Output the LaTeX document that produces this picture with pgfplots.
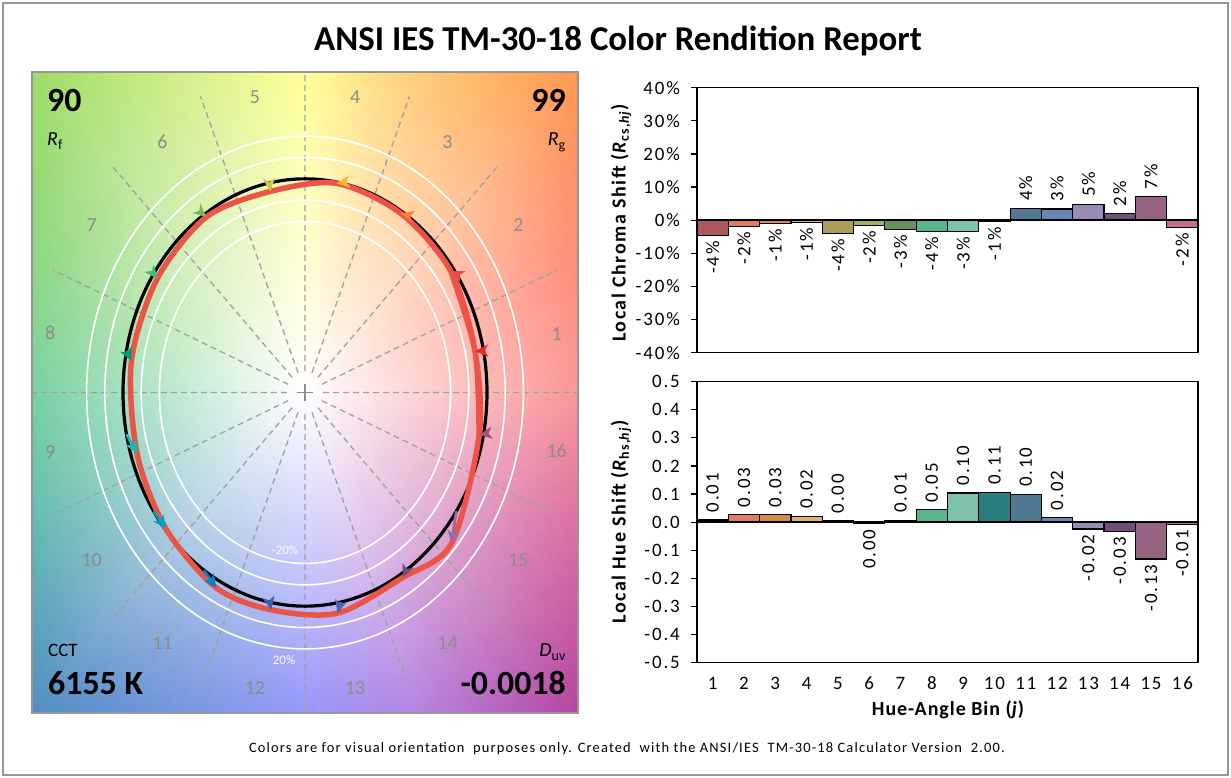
\documentclass[border=0pt]{standalone}
\usepackage{fontspec}
\setmainfont{Carlito}
\usepackage{pgfplots}
\pgfplotsset{compat=1.18}
\usetikzlibrary{arrows.meta}
% arrow (hue bin) colours
\definecolor{a1}{RGB}{230,40,40}
\definecolor{a2}{RGB}{231,75,75}
\definecolor{a3}{RGB}{251,129,46}
\definecolor{a4}{RGB}{255,181,41}
\definecolor{a5}{RGB}{203,202,70}
\definecolor{a6}{RGB}{126,185,76}
\definecolor{a7}{RGB}{65,192,109}
\definecolor{a8}{RGB}{0,156,124}
\definecolor{a9}{RGB}{22,188,176}
\definecolor{a10}{RGB}{0,164,191}
\definecolor{a11}{RGB}{0,133,195}
\definecolor{a12}{RGB}{59,98,170}
\definecolor{a13}{RGB}{69,104,174}
\definecolor{a14}{RGB}{106,78,133}
\definecolor{a15}{RGB}{157,105,161}
\definecolor{a16}{RGB}{167,79,129}
% bar colours
\definecolor{c1}{RGB}{172,88,92}
\definecolor{c2}{RGB}{220,125,100}
\definecolor{c3}{RGB}{215,140,70}
\definecolor{c4}{RGB}{225,180,100}
\definecolor{c5}{RGB}{175,155,90}
\definecolor{c6}{RGB}{160,175,105}
\definecolor{c7}{RGB}{105,145,95}
\definecolor{c8}{RGB}{90,180,140}
\definecolor{c9}{RGB}{125,195,170}
\definecolor{c10}{RGB}{40,125,125}
\definecolor{c11}{RGB}{80,120,145}
\definecolor{c12}{RGB}{105,135,180}
\definecolor{c13}{RGB}{150,140,180}
\definecolor{c14}{RGB}{110,80,120}
\definecolor{c15}{RGB}{150,100,130}
\definecolor{c16}{RGB}{195,110,145}
\definecolor{redc}{RGB}{236,84,72}
\definecolor{dashc}{RGB}{160,160,160}
\definecolor{numc}{RGB}{140,140,140}
\definecolor{framec}{RGB}{150,150,150}
\newcommand{\lblfont}{\fontsize{19}{21}\selectfont\addfontfeatures{LetterSpace=10}}
\newcommand{\pbar}[3]{\addplot[fill=#1, draw=black, line width=1.2bp, nodes near coords={#3}, every node near coord/.append style={rotate=90, anchor=west, font=\lblfont, inner xsep=7bp, inner ysep=0bp, text=black}] coordinates {(#2)};}
\newcommand{\nbar}[3]{\addplot[fill=#1, draw=black, line width=1.2bp, nodes near coords={#3}, every node near coord/.append style={rotate=90, anchor=east, font=\lblfont, inner xsep=5bp, inner ysep=0bp, text=black}] coordinates {(#2)};}
\newcommand{\arr}[3]{\addplot[color=#1, line width=2.8bp, -{Stealth[length=13bp,width=12bp,inset=3.5bp]}] coordinates {#2 #3};}
\begin{document}
\begin{tikzpicture}
\useasboundingbox (0,0) rectangle (1231bp,778bp);
\draw[framec, line width=1.5bp] (3bp,3bp) rectangle (1228bp,775bp);
\node[anchor=base, inner sep=0pt, font=\fontsize{35}{38}\selectfont\bfseries] at (618bp,727bp) {ANSI IES TM-30-18 Color Rendition Report};
\node[anchor=base, inner sep=0pt, font=\fontsize{14.5}{16}\selectfont\addfontfeatures{LetterSpace=8}] at (627bp,26bp) {Colors are for visual orientation\ \ purposes only. Created\ \ with the ANSI/IES\ \ TM-30-18 Calculator Version\ \ 2.00.};

% ---------------- colour vector graphic ----------------
\begin{axis}[at={(32bp,65bp)}, anchor=south west, scale only axis,
  width=546bp, height=641bp, xmin=-1.5, xmax=1.5, ymin=-1.5, ymax=1.5,
  axis on top, xtick=\empty, ytick=\empty,
  axis line style={draw=framec, line width=1.5bp}]
\addplot[patch, shader=interp, mesh/color input=explicit] table[meta=c] {
x y c
0 0 rgb=1,1,1
1.5 0 rgb=0.98,0.59,0.59
1.5 0.6213 rgb=1,0.55,0.47
0 0 rgb=1,1,1
1.5 0.6213 rgb=1,0.55,0.47
1.5 1.5 rgb=1,0.59,0.31
0 0 rgb=1,1,1
1.5 1.5 rgb=1,0.59,0.31
0.6213 1.5 rgb=1,0.80,0.47
0 0 rgb=1,1,1
0.6213 1.5 rgb=1,0.80,0.47
0 1.5 rgb=1,1,0.59
0 0 rgb=1,1,1
0 1.5 rgb=1,1,0.59
-0.6213 1.5 rgb=0.84,0.94,0.55
0 0 rgb=1,1,1
-0.6213 1.5 rgb=0.84,0.94,0.55
-1.5 1.5 rgb=0.61,0.86,0.39
0 0 rgb=1,1,1
-1.5 1.5 rgb=0.61,0.86,0.39
-1.5 0.6213 rgb=0.55,0.84,0.51
0 0 rgb=1,1,1
-1.5 0.6213 rgb=0.55,0.84,0.51
-1.5 0 rgb=0.47,0.82,0.63
0 0 rgb=1,1,1
-1.5 0 rgb=0.47,0.82,0.63
-1.5 -0.6213 rgb=0.39,0.73,0.69
0 0 rgb=1,1,1
-1.5 -0.6213 rgb=0.39,0.73,0.69
-1.5 -1.5 rgb=0.31,0.55,0.76
0 0 rgb=1,1,1
-1.5 -1.5 rgb=0.31,0.55,0.76
-0.6213 -1.5 rgb=0.47,0.59,0.88
0 0 rgb=1,1,1
-0.6213 -1.5 rgb=0.47,0.59,0.88
0 -1.5 rgb=0.59,0.59,0.98
0 0 rgb=1,1,1
0 -1.5 rgb=0.59,0.59,0.98
0.6213 -1.5 rgb=0.71,0.51,0.88
0 0 rgb=1,1,1
0.6213 -1.5 rgb=0.71,0.51,0.88
1.5 -1.5 rgb=0.71,0.27,0.63
0 0 rgb=1,1,1
1.5 -1.5 rgb=0.71,0.27,0.63
1.5 -0.6213 rgb=0.86,0.43,0.63
0 0 rgb=1,1,1
1.5 -0.6213 rgb=0.86,0.43,0.63
1.5 0 rgb=0.98,0.59,0.59
};
% dashed hue-bin boundaries
\addplot[dashc, line width=1.3bp, dash pattern=on 6bp off 4bp, unbounded coords=jump] coordinates {
(0.1,0) (1.5,0) (nan,nan)
(0.0924,0.0383) (1.3858,0.5740) (nan,nan)
(0.0707,0.0707) (1.0607,1.0607) (nan,nan)
(0.0383,0.0924) (0.5740,1.3858) (nan,nan)
(0,0.1) (0,1.5) (nan,nan)
(-0.0383,0.0924) (-0.5740,1.3858) (nan,nan)
(-0.0707,0.0707) (-1.0607,1.0607) (nan,nan)
(-0.0924,0.0383) (-1.3858,0.5740) (nan,nan)
(-0.1,0) (-1.5,0) (nan,nan)
(-0.0924,-0.0383) (-1.3858,-0.5740) (nan,nan)
(-0.0707,-0.0707) (-1.0607,-1.0607) (nan,nan)
(-0.0383,-0.0924) (-0.5740,-1.3858) (nan,nan)
(0,-0.1) (0,-1.5) (nan,nan)
(0.0383,-0.0924) (0.5740,-1.3858) (nan,nan)
(0.0707,-0.0707) (1.0607,-1.0607) (nan,nan)
(0.0924,-0.0383) (1.3858,-0.5740)
};
\draw[numc, line width=1.2bp] (axis cs:-0.045,0) -- (axis cs:0.045,0);
\draw[numc, line width=1.2bp] (axis cs:0,-0.04) -- (axis cs:0,0.04);
% rings
\draw[white, line width=1.6bp] (axis cs:0,0) ellipse [x radius=0.8, y radius=0.8];
\draw[white, line width=1.6bp] (axis cs:0,0) ellipse [x radius=0.9, y radius=0.9];
\draw[white, line width=1.6bp] (axis cs:0,0) ellipse [x radius=1.1, y radius=1.1];
\draw[white, line width=1.6bp] (axis cs:0,0) ellipse [x radius=1.2, y radius=1.2];
\draw[black, line width=3.2bp] (axis cs:0,0) ellipse [x radius=1, y radius=1];
% test-source gamut through the 16 test vertices (closed)
\addplot[redc, smooth, line width=5.5bp, line join=round] coordinates {
(0.9567,-0.1983)
(0.9342,0.1936) (0.8015,0.5674) (0.5276,0.8377) (0.1744,0.9786)
(-0.1920,0.9406) (-0.5418,0.8214) (-0.8111,0.5337) (-0.9537,0.1474)
(-0.9224,-0.2867) (-0.7644,-0.6372) (-0.4876,-0.9140) (-0.1855,-1.0172)
(0.1797,-1.0325) (0.5379,-0.8655) (0.8051,-0.7062) (0.9567,-0.1983)
(0.9342,0.1936) (0.8015,0.5674)
};
% shift arrows: reference -> test
\arr{a1}{(0.9808,0.1951)}{(0.9342,0.1936)}
\arr{a2}{(0.8315,0.5556)}{(0.8015,0.5674)}
\arr{a3}{(0.5556,0.8315)}{(0.5276,0.8377)}
\arr{a4}{(0.1951,0.9808)}{(0.1744,0.9786)}
\arr{a5}{(-0.1951,0.9808)}{(-0.1920,0.9406)}
\arr{a6}{(-0.5556,0.8315)}{(-0.5418,0.8214)}
\arr{a7}{(-0.8315,0.5556)}{(-0.8111,0.5337)}
\arr{a8}{(-0.9808,0.1951)}{(-0.9537,0.1474)}
\arr{a9}{(-0.9808,-0.1951)}{(-0.9224,-0.2867)}
\arr{a10}{(-0.8315,-0.5556)}{(-0.7644,-0.6372)}
\arr{a11}{(-0.5556,-0.8315)}{(-0.4876,-0.9140)}
\arr{a12}{(-0.1951,-0.9808)}{(-0.1855,-1.0172)}
\arr{a13}{(0.1951,-0.9808)}{(0.1797,-1.0325)}
\arr{a14}{(0.5556,-0.8315)}{(0.5379,-0.8655)}
\arr{a15}{(0.8315,-0.5556)}{(0.8051,-0.7062)}
\arr{a16}{(0.9808,-0.1951)}{(0.9567,-0.1983)}
% bin numbers
\begin{scope}[every node/.style={text=numc, font=\fontsize{20}{22}\selectfont}]
\node at (axis cs:1.383,0.275) {1};
\node at (axis cs:1.172,0.783) {2};
\node at (axis cs:0.783,1.172) {3};
\node at (axis cs:0.275,1.383) {4};
\node at (axis cs:-0.275,1.383) {5};
\node at (axis cs:-0.783,1.172) {6};
\node at (axis cs:-1.172,0.783) {7};
\node at (axis cs:-1.40,0.28) {8};
\node at (axis cs:-1.40,-0.28) {9};
\node at (axis cs:-1.172,-0.783) {10};
\node at (axis cs:-0.783,-1.172) {11};
\node at (axis cs:-0.275,-1.383) {12};
\node at (axis cs:0.275,-1.383) {13};
\node at (axis cs:0.783,-1.172) {14};
\node at (axis cs:1.172,-0.783) {15};
\node at (axis cs:1.383,-0.275) {16};
\end{scope}
\node[white, font=\fontsize{13}{14}\selectfont] at (axis cs:-0.11,-0.74) {-20\%};
\node[white, font=\fontsize{13}{14}\selectfont] at (axis cs:-0.115,-1.254) {20\%};
\end{axis}
% corner annotations
\node[anchor=base west, inner sep=0pt, font=\fontsize{34}{36}\selectfont\bfseries] at (47bp,666bp) {90};
\node[anchor=base west, inner sep=0pt, font=\fontsize{20}{22}\selectfont] at (47bp,632bp) {\textit{R}\textsubscript{f}};
\node[anchor=base east, inner sep=0pt, font=\fontsize{34}{36}\selectfont\bfseries] at (566bp,666bp) {99};
\node[anchor=base east, inner sep=0pt, font=\fontsize{20}{22}\selectfont] at (566bp,632bp) {\textit{R}\textsubscript{g}};
\node[anchor=base west, inner sep=0pt, font=\fontsize{19}{21}\selectfont] at (48bp,121bp) {CCT};
\node[anchor=base west, inner sep=0pt, font=\fontsize{34}{36}\selectfont\bfseries] at (48bp,83bp) {6155 K};
\node[anchor=base east, inner sep=0pt, font=\fontsize{20}{22}\selectfont] at (566bp,121bp) {\textit{D}\textsubscript{uv}};
\node[anchor=base east, inner sep=0pt, font=\fontsize{34}{36}\selectfont\bfseries] at (566bp,83bp) {-0.0018};

% ---------------- local chroma shift ----------------
\begin{axis}[at={(697bp,425.3bp)}, anchor=south west, scale only axis,
  width=501bp, height=265bp, xmin=0.5, xmax=16.5, ymin=-40, ymax=40,
  ybar, bar width=1, bar shift=0pt, clip=false,
  xtick=\empty, ytick={-40,-30,-20,-10,0,10,20,30,40},
  yticklabels={-40\%,-30\%,-20\%,-10\%,0\%,10\%,20\%,30\%,40\%},
  tick align=outside, major tick length=6bp, ytick pos=left,
  tick style={black, line width=1.2bp},
  yticklabel style={font=\lblfont, inner sep=0pt, xshift=-11bp},
  axis line style={line width=1.3bp}]
\nbar{c1}{1,-4.6}{-4\%}
\nbar{c2}{2,-1.8}{-2\%}
\nbar{c3}{3,-1.0}{-1\%}
\nbar{c4}{4,-0.6}{-1\%}
\nbar{c5}{5,-4.0}{-4\%}
\nbar{c6}{6,-1.6}{-2\%}
\nbar{c7}{7,-2.9}{-3\%}
\nbar{c8}{8,-3.5}{-4\%}
\nbar{c9}{9,-3.4}{-3\%}
\nbar{c10}{10,-0.5}{-1\%}
\pbar{c11}{11,3.6}{4\%}
\pbar{c12}{12,3.4}{3\%}
\pbar{c13}{13,4.8}{5\%}
\pbar{c14}{14,1.9}{2\%}
\pbar{c15}{15,7.1}{7\%}
\nbar{c16}{16,-2.3}{-2\%}
\draw[black, line width=2.6bp] (axis cs:0.5,0) -- (axis cs:16.5,0);
\end{axis}
\node[rotate=90, font=\fontsize{20}{22}\selectfont\bfseries\addfontfeatures{LetterSpace=8}] at (621bp,555bp) {Local Chroma Shift (\textit{R}\textsubscript{cs,\textit{hj}})};

% ---------------- local hue shift ----------------
\begin{axis}[at={(697bp,115.3bp)}, anchor=south west, scale only axis,
  width=501bp, height=281bp, xmin=0.5, xmax=16.5, ymin=-0.5, ymax=0.5,
  ybar, bar width=1, bar shift=0pt, clip=false,
  xtick={1,2,3,4,5,6,7,8,9,10,11,12,13,14,15,16},
  xticklabels={1,2,3,4,5,6,7,8,9,10,11,12,13,14,15,16},
  ytick={-0.5,-0.4,-0.3,-0.2,-0.1,0,0.1,0.2,0.3,0.4,0.5},
  yticklabels={-0.5,-0.4,-0.3,-0.2,-0.1,0.0,0.1,0.2,0.3,0.4,0.5},
  tick align=outside, major tick length=6bp, ytick pos=left,
  ytick style={black, line width=1.2bp}, xtick style={draw=none},
  yticklabel style={font=\lblfont, inner sep=0pt, xshift=-11bp},
  xticklabel style={font=\lblfont, inner sep=0pt, yshift=-8bp},
  axis line style={line width=1.3bp}]
\pbar{c1}{1,0.008}{0.01}
\pbar{c2}{2,0.027}{0.03}
\pbar{c3}{3,0.027}{0.03}
\pbar{c4}{4,0.020}{0.02}
\pbar{c5}{5,0.004}{0.00}
\nbar{c6}{6,-0.006}{0.00}
\pbar{c7}{7,0.007}{0.01}
\pbar{c8}{8,0.044}{0.05}
\pbar{c9}{9,0.104}{0.10}
\pbar{c10}{10,0.106}{0.11}
\pbar{c11}{11,0.099}{0.10}
\pbar{c12}{12,0.016}{0.02}
\nbar{c13}{13,-0.024}{-0.02}
\nbar{c14}{14,-0.034}{-0.03}
\nbar{c15}{15,-0.131}{-0.13}
\nbar{c16}{16,-0.008}{-0.01}
\draw[black, line width=2.6bp] (axis cs:0.5,0) -- (axis cs:16.5,0);
\end{axis}
\node[rotate=90, font=\fontsize{20}{22}\selectfont\bfseries\addfontfeatures{LetterSpace=8}] at (621bp,256bp) {Local Hue Shift (\textit{R}\textsubscript{hs,\textit{hj}})};
\node[anchor=base, inner sep=0pt, font=\fontsize{20}{22}\selectfont\bfseries\addfontfeatures{LetterSpace=5}] at (948bp,62bp) {Hue-Angle Bin (\textit{j})};
\end{tikzpicture}
\end{document}
